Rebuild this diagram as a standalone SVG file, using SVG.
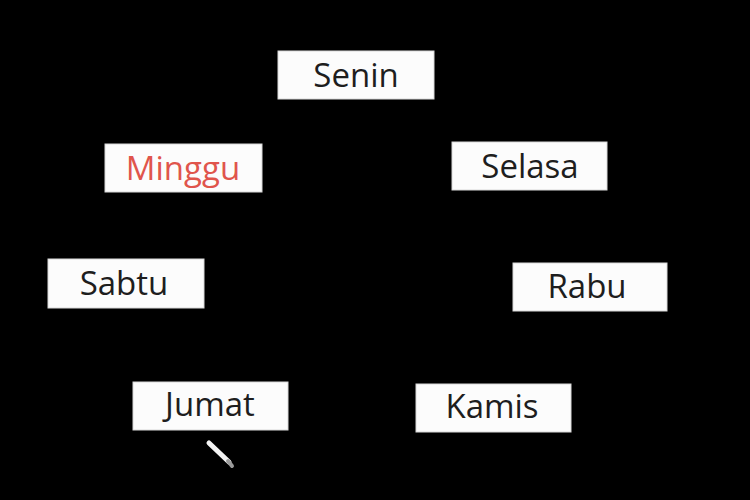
<svg xmlns="http://www.w3.org/2000/svg" width="750" height="500" viewBox="0 0 750 500">
<style>
.box{fill:#fcfcfc;stroke:#d8d8d8;stroke-width:1}
.t{font-family:"Open Sans","Liberation Sans",sans-serif;font-size:33px;fill:#1e1e1e;text-anchor:middle}
.red{fill:#e0554c}
</style>
<rect x="0" y="0" width="750" height="500" fill="#000"/>
<g id="senin"><rect class="box" x="278" y="51" width="156" height="48"/><text class="t" x="356" y="87">Senin</text></g>
<g id="selasa"><rect class="box" x="452" y="142" width="155" height="48"/><text class="t" x="530" y="178">Selasa</text></g>
<g id="rabu"><rect class="box" x="513" y="263" width="154" height="48"/><text class="t" x="587" y="298">Rabu</text></g>
<g id="kamis"><rect class="box" x="416" y="384" width="155" height="48"/><text class="t" x="492" y="418">Kamis</text></g>
<g id="jumat"><rect class="box" x="133" y="382" width="155" height="48"/><text class="t" x="210" y="416">Jumat</text></g>
<g id="sabtu"><rect class="box" x="48" y="259" width="156" height="49"/><text class="t" x="124" y="295">Sabtu</text></g>
<g id="minggu"><rect class="box" x="105" y="144" width="157" height="48"/><text class="t red" x="183" y="180">Minggu</text></g>
<g id="connectors"></g>
<g id="pencil">
<line x1="209" y1="443" x2="229" y2="462" stroke="#f4f4f4" stroke-width="5" stroke-linecap="round"/>
<line x1="228" y1="461" x2="232" y2="466" stroke="#9a9a9a" stroke-width="4" stroke-linecap="round"/>
</g>
</svg>
